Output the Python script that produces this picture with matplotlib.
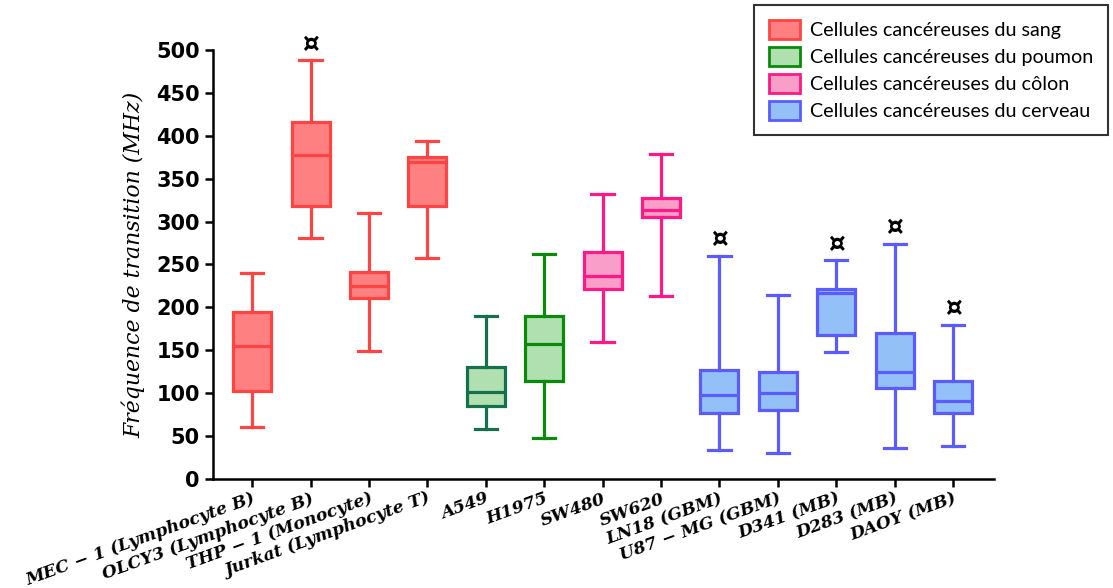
import matplotlib
matplotlib.use("Agg")
import matplotlib.pyplot as plt
from matplotlib.patches import Patch

# Cell lines (x axis)
labels = ["MEC \u2212 1 (Lymphocyte B)", "OLCY3 (Lymphocyte B)", "THP \u2212 1 (Monocyte)",
          "Jurkat (Lymphocyte T)", "A549", "H1975", "SW480", "SW620",
          "LN18 (GBM)", "U87 \u2212 MG (GBM)", "D341 (MB)", "D283 (MB)", "DAOY (MB)"]

# box statistics (MHz)
whis_lo = [61, 281, 149, 258, 58, 48, 160, 213, 34, 30, 148, 36, 38]
q1      = [103, 318, 211, 318, 85, 114, 221, 305, 77, 80, 168, 106, 77]
median  = [155, 378, 225, 370, 101, 157, 236, 313, 98, 100, 217, 125, 91]
q3      = [195, 416, 241, 375, 131, 190, 264, 327, 127, 125, 221, 170, 114]
whis_hi = [240, 488, 310, 394, 190, 262, 332, 379, 260, 214, 255, 274, 180]

# group of each cell line, and which ones get the ¤ mark
group = ["sang"] * 4 + ["poumon"] * 2 + ["colon"] * 2 + ["cerveau"] * 5
marked = [False, True, False, False, False, False, False, False, True, False, True, True, True]

group_names = ["sang", "poumon", "colon", "cerveau"]
legend_labels = ["Cellules canc\u00e9reuses du sang", "Cellules canc\u00e9reuses du poumon",
                 "Cellules canc\u00e9reuses du c\u00f4lon", "Cellules canc\u00e9reuses du cerveau"]

face = {"sang": "#ff8080", "poumon": "#b0e0b0", "colon": "#f99dc9", "cerveau": "#93c0f7"}
edge = {"sang": "#ff4444", "poumon": "#0a8a0a", "colon": "#ff1a85", "cerveau": "#5b5bff"}
edge_override = {4: "#17704c"}  # A549 has a darker teal outline

stats = []
for i in range(len(labels)):
    stats.append({"whislo": whis_lo[i], "q1": q1[i], "med": median[i],
                  "q3": q3[i], "whishi": whis_hi[i], "fliers": []})

fig = plt.figure(figsize=(11.13, 5.88), dpi=100)
ax = fig.add_axes([0.1914, 0.1854, 0.893 - 0.1914, 0.915 - 0.1854])

pos = list(range(len(labels)))
bp = ax.bxp(stats, positions=pos, widths=0.65, patch_artist=True,
            showfliers=False, capwidths=0.38)

lw = 2.3
for i in pos:
    ec = edge_override.get(i, edge[group[i]])
    bp["boxes"][i].set(facecolor=face[group[i]], edgecolor=ec, linewidth=lw)
    bp["medians"][i].set(color=ec, linewidth=lw)
    for k in (2 * i, 2 * i + 1):
        bp["whiskers"][k].set(color=ec, linewidth=lw)
        bp["caps"][k].set(color=ec, linewidth=lw)
    if marked[i]:
        ax.text(i, whis_hi[i] + 3, "\u00a4", ha="center", va="bottom",
                fontsize=19, fontweight="bold", color="black")

ax.set_xlim(-0.67, 12.7)
ax.set_ylim(0, 500)
ax.set_yticks(range(0, 501, 50))
ax.set_yticklabels([str(v) for v in range(0, 501, 50)],
                   fontsize=15, fontweight="bold", family="DejaVu Sans")
ax.set_xticks(pos)
ax.set_xticklabels(labels, rotation=20, ha="right", rotation_mode="anchor",
                   fontsize=12.4, fontweight="bold", fontstyle="italic",
                   family="DejaVu Serif")
ax.set_ylabel("Fr\u00e9quence de transition (MHz)", fontsize=15.8, fontstyle="italic",
              family="DejaVu Serif", labelpad=8)

for s in ("top", "right"):
    ax.spines[s].set_visible(False)
for s in ("left", "bottom"):
    ax.spines[s].set_linewidth(1.8)
ax.tick_params(axis="both", width=1.8, length=6)
ax.tick_params(axis="x", pad=2)

handles = []
for g in group_names:
    handles.append(Patch(facecolor=face[g], edgecolor=edge[g], linewidth=2))
leg = fig.legend(handles, legend_labels, loc="upper right",
                 bbox_to_anchor=(1108 / 1113, 1 - 5 / 588), borderaxespad=0,
                 prop={"family": "Lato", "size": 14.2}, frameon=True,
                 fancybox=False, edgecolor="black", handlelength=1.6,
                 handleheight=1.1, handletextpad=0.5, labelspacing=0.4,
                 borderpad=0.75)
leg.get_frame().set_linewidth(1.5)

fig.savefig("out.png", dpi=100)
